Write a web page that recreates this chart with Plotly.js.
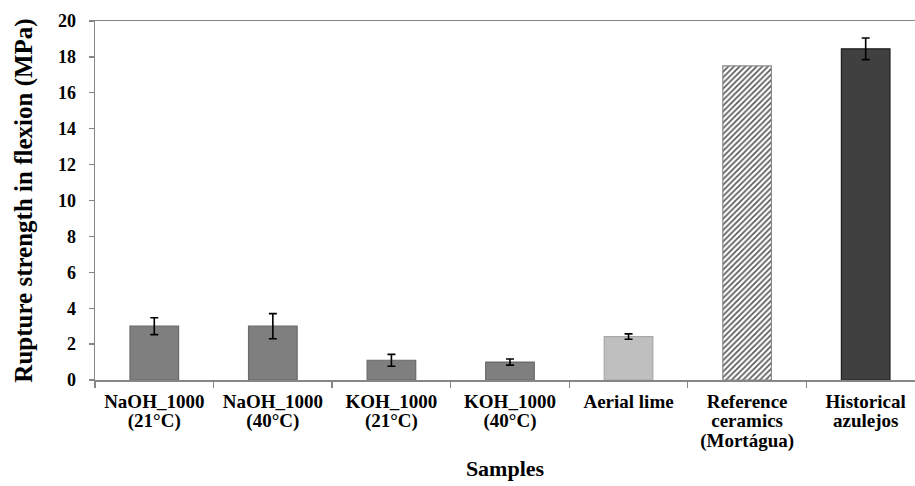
<!DOCTYPE html>
<html><head><meta charset="utf-8">
<script src="https://cdn.plot.ly/plotly-3.0.1.min.js"></script>
<style>html,body{margin:0;padding:0;background:#fff}</style>
</head><body><div id="chart" style="width:915px;height:486px"></div>
<script>
const categories = ["NaOH_1000 (21°C)", "NaOH_1000 (40°C)", "KOH_1000 (21°C)", "KOH_1000 (40°C)", "Aerial lime", "Reference ceramics (Mortágua)", "Historical azulejos"];
const labelLines = [["NaOH_1000", "(21°C)"], ["NaOH_1000", "(40°C)"], ["KOH_1000", "(21°C)"], ["KOH_1000", "(40°C)"], ["Aerial lime"], ["Reference", "ceramics", "(Mortágua)"], ["Historical", "azulejos"]];
const values = [3.0, 3.0, 1.1, 1.0, 2.42, 17.5, 18.45];
const errors = [0.47, 0.7, 0.33, 0.17, 0.15, NaN, 0.6];
const yTickVals = [0, 2, 4, 6, 8, 10, 12, 14, 16, 18, 20];
const hatched = [false, false, false, false, false, true, false];

const fills = ["#7f7f7f", "#7f7f7f", "#7f7f7f", "#7f7f7f", "#bfbfbf", "#ffffff", "#404040"];
const edges = ["#6a6a6a", "#6a6a6a", "#6a6a6a", "#6a6a6a", "#a8a8a8", "#8a8a8a", "#1e1e1e"];

const FONT = "Liberation Serif";
const tickText = labelLines.map(ls => ls.map(l => '<span style="font-size:19px">' + l + '</span>').join('<br>'));

function pick(arr, want) { return arr.filter((v, i) => hatched[i] === want); }

const solidTrace = {
  type: 'bar',
  x: pick(categories, false),
  y: pick(values, false),
  width: 0.41,
  marker: {color: pick(fills, false), line: {color: pick(edges, false), width: 1.2}},
  error_y: {type: 'data', array: pick(errors, false), visible: true, color: '#000000', thickness: 1.6, width: 4},
  hoverinfo: 'x+y'
};
const hatchTrace = {
  type: 'bar',
  x: pick(categories, true),
  y: pick(values, true),
  width: 0.41,
  marker: {
    color: '#ffffff',
    line: {color: pick(edges, true), width: 1.2},
    pattern: {shape: '/', fgcolor: '#555555', bgcolor: '#ffffff', size: 4, solidity: 0.4}
  },
  hoverinfo: 'x+y'
};

const layout = {
  width: 915, height: 486,
  margin: {l: 95, r: 0, t: 21, b: 106},
  paper_bgcolor: '#ffffff', plot_bgcolor: '#ffffff',
  showlegend: false,
  barmode: 'overlay',
  font: {family: FONT, color: '#000000'},
  xaxis: {
    type: 'category',
    categoryorder: 'array', categoryarray: categories,
    range: [-0.5, 6.416],
    tickmode: 'array', tickvals: categories, ticktext: tickText,
    tickson: 'boundaries',
    ticks: 'outside', ticklen: 6, tickcolor: '#868686', tickwidth: 1.3,
    showline: true, linecolor: '#868686', linewidth: 1.5, mirror: true,
    showgrid: false, zeroline: false,
    tickangle: 0,
    ticklabelstandoff: 8,
    tickfont: {family: FONT, size: 15, color: '#000000', weight: 'bold'},
    title: {text: '<b>Samples</b>', font: {family: FONT, size: 22, color: '#000000'}, standoff: 10}
  },
  yaxis: {
    range: [0, 20],
    tickmode: 'array', tickvals: yTickVals,
    ticks: 'outside', ticklen: 5, tickcolor: '#868686', tickwidth: 1.3,
    showline: true, linecolor: '#868686', linewidth: 1.5,
    showgrid: false, zeroline: false,
    ticklabelstandoff: 9,
    tickfont: {family: FONT, size: 18, color: '#000000', weight: 'bold'},
    title: {text: '<b>Rupture strength in flexion (MPa)</b>', font: {family: FONT, size: 25, color: '#000000'}, standoff: 18}
  }
};

Plotly.newPlot('chart', [solidTrace, hatchTrace], layout, {displayModeBar: false, staticPlot: true});
</script></body></html>
